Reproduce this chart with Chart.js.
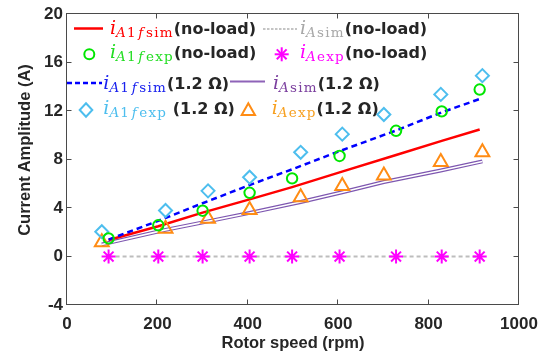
<!DOCTYPE html>
<html><head><meta charset="utf-8">
<script src="https://cdn.jsdelivr.net/npm/chart.js@4/dist/chart.umd.min.js"></script>
<style>
html,body{margin:0;padding:0;background:#fff;}
#wrap{position:relative;width:552px;height:354px;overflow:hidden;}
#c{position:absolute;left:0;top:0;}
#lgsvg{position:absolute;left:0;top:0;pointer-events:none;}
.lg{position:absolute;white-space:nowrap;font-family:"DejaVu Sans";font-weight:bold;font-size:16px;line-height:20px;color:#262626;}
.m{font-family:"DejaVu Serif";font-weight:normal;}
.iv{font-style:italic;font-size:19px;line-height:0;}
.sb{font-size:13.5px;line-height:0;vertical-align:-3px;letter-spacing:1.2px;font-style:normal;}
.sb em{font-style:italic;}
.sb em.f{padding:0 1.5px;}
.ax{position:absolute;font-family:"Liberation Sans";font-weight:bold;font-size:16.5px;color:#262626;white-space:nowrap;line-height:20px;}
</style></head>
<body>
<div id="wrap">
<canvas id="c" width="552" height="354"></canvas>
<svg id="lgsvg" width="552" height="354">
  <line x1="74" y1="28.5" x2="103" y2="28.5" stroke="#ff0000" stroke-width="2.5"/>
  <line x1="263" y1="29" x2="297" y2="29" stroke="#c4c4c4" stroke-width="1.8" stroke-dasharray="2.5,1.5"/>
  <circle cx="89.3" cy="54.3" r="5" fill="none" stroke="#00e600" stroke-width="2"/>
  <g stroke="#ff00ff" stroke-width="2">
    <line x1="281.7" y1="47.3" x2="281.7" y2="61.3"/>
    <line x1="274.7" y1="54.3" x2="288.7" y2="54.3"/>
    <line x1="276.8" y1="49.4" x2="286.6" y2="59.2"/>
    <line x1="276.8" y1="59.2" x2="286.6" y2="49.4"/>
  </g>
  <line x1="67" y1="83" x2="102" y2="83" stroke="#0000ff" stroke-width="2.5" stroke-dasharray="5,3"/>
  <line x1="230" y1="81.5" x2="265" y2="81.5" stroke="#8e63b8" stroke-width="2"/>
  <polygon points="86,103.3 92.3,110 86,116.7 79.7,110" fill="none" stroke="#4dbeee" stroke-width="2"/>
  <polygon points="248.3,103.3 255,115 241.7,115" fill="none" stroke="#ff8c14" stroke-width="2"/>
</svg>
<div class="lg" style="left:110px;top:19px"><span class="m" style="color:#ff0000"><span class="iv">i</span><span class="sb"><em>A</em>1<em class="f">f</em>sim</span></span>(no-load)</div>
<div class="lg" style="left:300px;top:19px"><span class="m" style="color:#a8a8a8"><span class="iv">i</span><span class="sb"><em>A</em>sim</span></span>(no-load)</div>
<div class="lg" style="left:110px;top:42.5px"><span class="m" style="color:#22dd22"><span class="iv">i</span><span class="sb"><em>A</em>1<em class="f">f</em>exp</span></span>(no-load)</div>
<div class="lg" style="left:300px;top:42.5px"><span class="m" style="color:#ff00ff"><span class="iv">i</span><span class="sb"><em>A</em>exp</span></span>(no-load)</div>
<div class="lg" style="left:103.3px;top:73.5px"><span class="m" style="color:#1a22ee"><span class="iv">i</span><span class="sb"><em>A</em>1<em class="f">f</em>sim</span></span>(1.2 Ω)</div>
<div class="lg" style="left:273px;top:73.5px"><span class="m" style="color:#7b3f9e"><span class="iv">i</span><span class="sb"><em>A</em>sim</span></span>(1.2 Ω)</div>
<div class="lg" style="left:103.3px;top:99px"><span class="m" style="color:#4dbeee"><span class="iv">i</span><span class="sb"><em>A</em>1<em class="f">f</em>exp</span></span> (1.2 Ω)</div>
<div class="lg" style="left:271.7px;top:99px"><span class="m" style="color:#f7a020"><span class="iv">i</span><span class="sb"><em>A</em>exp</span></span>(1.2 Ω)</div>
<div class="ax" style="left:293px;top:342px;transform:translate(-50%,-50%);">Rotor speed (rpm)</div>
<div class="ax" style="left:23.5px;top:150px;transform:translate(-50%,-50%) rotate(-90deg);">Current Amplitude (A)</div>
</div>
<script>
// ---- data ----
const rpmNoLoad = [92, 202, 300, 404, 498, 603, 728, 829, 913];
const rpmLoad   = [77, 218, 312, 404, 517, 609, 701, 827, 919];

const iA1fSimNoLoad = [1.37, 2.5, 3.62, 4.72, 5.73, 6.95, 8.38, 9.55, 10.49];
const iASimNoLoad   = [0, 0, 0, 0, 0, 0, 0, 0, 0];
const iA1fExpNoLoad = [1.5, 2.58, 3.78, 5.26, 6.45, 8.3, 10.38, 11.98, 13.78];
const iAExpNoLoad   = [0, 0, 0, 0, 0, 0, 0, 0, 0];

const iA1fSimLoad = [1.4, 2.95, 4.4, 5.9, 7.2, 8.7, 10.4, 11.9, 13.0];
const iASimLoad   = [1.0, 2.2, 2.9, 3.6, 4.5, 5.3, 6.15, 7.1, 7.85];
const iA1fExpLoad = [2.05, 3.8, 5.42, 6.55, 8.6, 10.1, 11.72, 13.38, 14.93];
const iAExpLoad   = [1.18, 2.3, 3.12, 3.84, 4.9, 5.82, 6.68, 7.81, 8.6];

const xTicks = [0, 200, 400, 600, 800, 1000];
const yTicks = [-4, 0, 4, 8, 12, 16, 20];

const pts = (xs, ys) => xs.map((x, i) => ({x: x, y: ys[i]}));

const framePlugin = {
  id: 'frame',
  afterDatasetsDraw(chart) {
    const {ctx, chartArea: a, scales: {x, y}} = chart;
    ctx.save();
    ctx.strokeStyle = '#4a4a4a';
    ctx.lineWidth = 1;
    const L = Math.round(a.left) - 0.5, R = Math.round(a.right) - 0.5;
    const T = Math.round(a.top) - 0.5, B = Math.round(a.bottom) - 0.5;
    ctx.strokeRect(L, T, R - L, B - T);
    ctx.beginPath();
    xTicks.forEach(v => {
      const p = Math.round(x.getPixelForValue(v)) - 0.5;
      ctx.moveTo(p, B); ctx.lineTo(p, B - 5);
      ctx.moveTo(p, T); ctx.lineTo(p, T + 5);
    });
    yTicks.forEach(v => {
      const p = Math.round(y.getPixelForValue(v)) - 0.5;
      ctx.moveTo(L, p); ctx.lineTo(L + 5, p);
      ctx.moveTo(R, p); ctx.lineTo(R - 5, p);
    });
    ctx.stroke();
    ctx.restore();
  }
};

Chart.defaults.font.family = 'Liberation Sans';
new Chart(document.getElementById('c'), {
  type: 'scatter',
  data: {
    datasets: [
      {data: pts(rpmNoLoad, iA1fSimNoLoad), showLine: true, borderColor: '#ff0000', borderWidth: 2.5, pointRadius: 0, order: 5},
      {data: pts(rpmNoLoad, iASimNoLoad), showLine: true, borderColor: '#bdbdbd', borderWidth: 2, borderDash: [4, 3], pointRadius: 0, order: 6},
      {data: pts(rpmNoLoad, iA1fSimLoad), showLine: true, borderColor: '#0000ff', borderWidth: 2.5, borderDash: [6, 4], pointRadius: 0, order: 4},
      {data: pts(rpmLoad, iASimLoad), showLine: true, borderColor: '#7e57b0', borderWidth: 4, pointRadius: 0, order: 8},
      {data: pts(rpmLoad, iASimLoad), showLine: true, borderColor: '#ffffff', borderWidth: 1.6, pointRadius: 0, order: 7},
      {data: pts(rpmNoLoad, iA1fExpNoLoad), pointStyle: 'circle', pointRadius: 5.2, pointBorderWidth: 2, borderColor: '#00e600', backgroundColor: 'rgba(0,0,0,0)', order: 1},
      {data: pts(rpmNoLoad, iAExpNoLoad), pointStyle: 'star', pointRadius: 7, pointBorderWidth: 2, borderColor: '#ff00ff', backgroundColor: 'rgba(0,0,0,0)', order: 1},
      {data: pts(rpmLoad, iA1fExpLoad), pointStyle: 'rectRot', pointRadius: 6.5, pointBorderWidth: 2, borderColor: '#4dbeee', backgroundColor: 'rgba(0,0,0,0)', order: 1},
      {data: pts(rpmLoad, iAExpLoad), pointStyle: 'triangle', pointRadius: 8, pointBorderWidth: 2, borderColor: '#ff8c14', backgroundColor: 'rgba(0,0,0,0)', order: 1}
    ]
  },
  options: {
    responsive: false,
    animation: false,
    devicePixelRatio: 1,
    layout: {padding: {left: 0, right: 33, top: 13, bottom: 0}},
    plugins: {legend: {display: false}, tooltip: {enabled: false}},
    scales: {
      x: {
        type: 'linear', min: 0, max: 1000,
        afterBuildTicks: s => { s.ticks = xTicks.map(v => ({value: v})); },
        afterFit: s => { s.height = 49; },
        grid: {display: false, drawTicks: false},
        border: {display: false},
        ticks: {padding: 9, color: '#262626', font: {size: 17, weight: 'bold'}, maxRotation: 0, callback: v => String(v)}
      },
      y: {
        type: 'linear', min: -4, max: 20,
        afterBuildTicks: s => { s.ticks = yTicks.map(v => ({value: v})); },
        afterFit: s => { s.width = 67; },
        grid: {display: false, drawTicks: false},
        border: {display: false},
        ticks: {padding: 4, color: '#262626', font: {size: 17, weight: 'bold'}, callback: v => String(v)}
      }
    }
  },
  plugins: [framePlugin]
});
</script>
</body></html>
